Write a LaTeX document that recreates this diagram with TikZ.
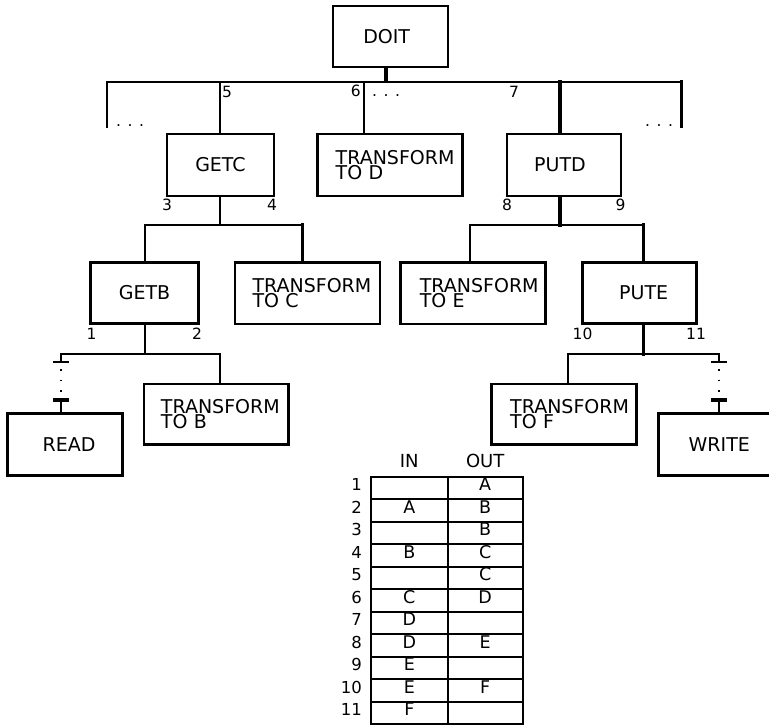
\documentclass[tikz,border=0pt]{standalone}
\usepackage{fontspec}
\setmainfont{DejaVu Sans}
\hbadness=10000 \hfuzz=200pt
\begin{document}
\begin{tikzpicture}[x=1pt,y=-1pt,
  box/.style={draw, line width=2.7pt, rectangle, inner sep=0pt, font=\fontsize{19}{15.3}\selectfont},
  tbox/.style={box, align=left, text width=#1},
  conn/.style={line width=2.3pt, line cap=rect},
  thk/.style={line width=3.2pt, line cap=rect},
  tick/.style={line width=2.3pt},
  thktick/.style={line width=3.8pt},
  dotline/.style={line width=1.9pt, dash pattern=on 1.7pt off 8.8pt},
  lab/.style={inner sep=0pt, font=\fontsize{15.5}{18}\selectfont},
  rownum/.style={inner sep=0pt, font=\fontsize{16.5}{19}\selectfont},
  head/.style={inner sep=0pt, font=\fontsize{18}{21}\selectfont},
  cell/.style={draw, line width=2.4pt, inner xsep=0pt, inner ysep=0.5pt, text height=13.5pt, text depth=8pt, font=\fontsize{17.5}{20}\selectfont}]
\useasboundingbox (0,0) rectangle (769,725);
\clip (0,0) rectangle (769,725);

% boxes
\node[box, minimum width=115pt, minimum height=61pt] (DOIT) at (390.5,36.5) {DOIT\kern7.6pt};
\node[box, minimum width=107pt, minimum height=62pt] (GETC) at (220.5,165) {GETC};
\node[tbox=109pt, minimum width=145pt, minimum height=62pt] (TD) at (390.2,165) {TRANSFORM\\TO D};
\node[box, minimum width=114pt, minimum height=62pt] (PUTD) at (564,165) {PUTD\kern8pt};
\node[box, minimum width=107.6pt, minimum height=60.6pt] (GETB) at (144.5,293) {GETB};
\node[tbox=110pt, minimum width=145pt, minimum height=61.3pt] (TC) at (307.5,293.3) {TRANSFORM\\TO C};
\node[tbox=107pt, minimum width=145pt, minimum height=61.3pt] (TE) at (473.3,293.3) {TRANSFORM\\TO E};
\node[box, minimum width=114pt, minimum height=60.6pt] (PUTE) at (639.7,293) {\kern8pt PUTE};
\node[tbox=110.7pt, minimum width=144.7pt, minimum height=60.3pt] (TB) at (216.3,414.2) {TRANSFORM\\TO B};
\node[tbox=108pt, minimum width=145pt, minimum height=60.3pt] (TF) at (564.2,414.2) {TRANSFORM\\TO F};
\node[box, minimum width=115.4pt, minimum height=62pt] (READ) at (65,444.7) {\kern8pt READ};
\node[box, minimum width=122pt, minimum height=61.6pt] (WRITE) at (719.3,444.5) {WRITE};

% level 1 connectors
\coordinate (b0) at (386,81.7);
\coordinate (bL) at (106.7,81.7);
\coordinate (bR) at (681.7,81.7);
\coordinate (eL) at (106.7,126.7);
\coordinate (eR) at (681.7,126.7);
\coordinate (v5) at (220,81.7);
\coordinate (v6) at (364,81.7);
\coordinate (v7) at (560,81.7);
\draw[thk] (DOIT.south -| b0) -- (b0);
\draw[conn] (bL) -- (bR);
\draw[conn] (bL) -- (eL);
\draw[thk] (bR) -- (eR);
\draw[conn] (v5) -- (GETC.north -| v5);
\draw[conn] (v6) -- (TD.north -| v6);
\draw[thk] (v7) -- (PUTD.north -| v7);

% GETC connectors
\coordinate (g0) at (220,225);
\coordinate (gL) at (145,225);
\coordinate (gR) at (302.7,225);
\draw[conn] (GETC.south -| g0) -- (g0);
\draw[conn] (gL) -- (gR);
\draw[conn] (gL) -- (GETB.north -| gL);
\draw[thk] (gR) -- (TC.north -| gR);

% PUTD connectors
\coordinate (p0) at (560,225);
\coordinate (pL) at (470,225);
\coordinate (pR) at (643.3,225);
\draw[thk] (PUTD.south -| p0) -- (p0);
\draw[conn] (pL) -- (pR);
\draw[conn] (pL) -- (TE.north -| pL);
\draw[thk] (pR) -- (PUTE.north -| pR);

% GETB connectors
\coordinate (q0) at (145,354);
\coordinate (qL) at (61,354);
\coordinate (qR) at (220,354);
\coordinate (qt1) at (61,361.7);
\coordinate (qd1) at (61,369.2);
\coordinate (qd2) at (61,392);
\coordinate (qt2) at (61,399.7);
\draw[conn] (GETB.south -| q0) -- (q0);
\draw[conn] (qL) -- (qR);
\draw[conn] (qR) -- (TB.north -| qR);
\draw[conn] (qL) -- (qt1);
\draw[tick] ([xshift=-8pt]qt1) -- ([xshift=8pt]qt1);
\draw[dotline] (qd1) -- (qd2);
\draw[thktick] ([xshift=-8pt]qt2) -- ([xshift=8pt]qt2);
\draw[conn] (qt2) -- (READ.north -| qt2);

% PUTE connectors
\coordinate (r0) at (643.3,354);
\coordinate (rL) at (568.3,354);
\coordinate (rR) at (719.3,354);
\coordinate (rt1) at (719.3,361.7);
\coordinate (rd1) at (719.3,369.2);
\coordinate (rd2) at (719.3,392);
\coordinate (rt2) at (719.3,399.7);
\draw[thk] (PUTE.south -| r0) -- (r0);
\draw[conn] (rL) -- (rR);
\draw[conn] (rL) -- (TF.north -| rL);
\draw[conn] (rR) -- (rt1);
\draw[tick] ([xshift=-8pt]rt1) -- ([xshift=8pt]rt1);
\draw[dotline] (rd1) -- (rd2);
\draw[thktick] ([xshift=-8pt]rt2) -- ([xshift=8pt]rt2);
\draw[conn] (rt2) -- (WRITE.north -| rt2);

% labels
\node[lab, anchor=base west] (n5) at (222,97.3) {5};
\node[lab, anchor=base east] (n6) at (361,96.7) {6};
\node[lab, anchor=base west] (d6) at (372,96.5) {. . .};
\node[lab, anchor=base west] (n7) at (509,97) {7};
\node[lab, anchor=base west] (dL) at (116,126.5) {. . .};
\node[lab, anchor=base west] (dR) at (645,126.5) {. . .};
\node[lab, anchor=base west] (n3) at (162,210) {3};
\node[lab, anchor=base west] (n4) at (267,210) {4};
\node[lab, anchor=base west] (n8) at (502,210) {8};
\node[lab, anchor=base west] (n9) at (615.5,210) {9};
\node[lab, anchor=base west] (n1) at (86.5,339) {1};
\node[lab, anchor=base west] (n2) at (192,339) {2};
\node[lab, anchor=base west] (n10) at (572.5,339) {10};
\node[lab, anchor=base west] (n11) at (686,339) {11};

% table
\node[head] (hIN) at (409.3,461) {IN};
\node[head] (hOUT) at (485.2,461) {OUT};
\foreach \i/\a/\b in {1//A,2/A/B,3//B,4/B/C,5//C,6/C/D,7/D/,8/D/E,9/E/,10/E/F,11/F/} {
  \pgfmathsetmacro\cy{476.7+(\i-1)*22.5+11.25}
  \node[cell, minimum width=76.7pt] (in\i) at (409.35,\cy) {\a};
  \node[cell, minimum width=75pt] (out\i) at (485.2,\cy) {\b};
  \node[rownum, anchor=base east] (row\i) at (362,\cy+2.75) {\i};
}
\end{tikzpicture}
\end{document}
